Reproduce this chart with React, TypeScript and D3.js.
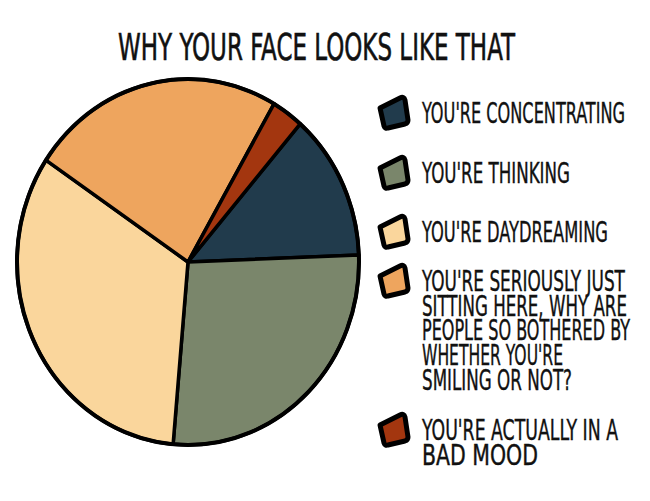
import React, { useLayoutEffect, useRef, useState } from "react";
import * as d3 from "d3";

// Slices, clockwise from the navy wedge
const categories = ["concentrating", "thinking", "daydreaming", "sitting", "badMood"];
const values = [13, 27, 33, 24, 3];
const colors = ["#213b4c", "#7a866b", "#fad69c", "#eea55e", "#a3360f"];

// Legend text, one array of lines per slice
const legendLines: string[][] = [
  ["YOU'RE CONCENTRATING"],
  ["YOU'RE THINKING"],
  ["YOU'RE DAYDREAMING"],
  [
    "YOU'RE SERIOUSLY JUST",
    "SITTING HERE, WHY ARE",
    "PEOPLE SO BOTHERED BY",
    "WHETHER YOU'RE",
    "SMILING OR NOT?",
  ],
  ["YOU'RE ACTUALLY IN A", "BAD MOOD"],
];
const legendWidths: number[][] = [[203], [148], [186], [203, 205, 208, 141, 150], [196, 116]];

const title = "WHY YOUR FACE LOOKS LIKE THAT";

const W = 650;
const H = 501;
const FONT = "'Liberation Sans Narrow', 'DejaVu Sans Condensed', 'Roboto Condensed', sans-serif";

const cx = 188;
const cy = 262;
const rx = 171;
const ry = 183;

const legendTops = [123, 183, 242, 291, 440];
const lineStep = 24.7;

// Hand-drawn style marker (rough tilted quad)
const markerPath = "M3,12 L23,2 Q27,0 28,4 L31,24 Q31,27 28,28 L11,32 Q8,33 7,30 Z";

// Text squeezed horizontally to a given width (narrow hand-lettered look)
function FitText(props: {
  x: number;
  y: number;
  width: number;
  size: number;
  strokeW: number;
  children: string;
}) {
  const ref = useRef<SVGTextElement>(null);
  const [sx, setSx] = useState(0.6);
  useLayoutEffect(() => {
    if (ref.current) {
      const natural = ref.current.getComputedTextLength();
      if (natural > 0) setSx(props.width / natural);
    }
  }, [props.width, props.children]);
  return (
    <text
      ref={ref}
      transform={`translate(${props.x},${props.y}) scale(${sx},1)`}
      fontFamily={FONT}
      fontSize={props.size}
      fill="#111"
      stroke="#111"
      strokeWidth={props.strokeW}
    >
      {props.children}
    </text>
  );
}

export default function App() {
  const startAngle = (41 * Math.PI) / 180;
  const pie = d3
    .pie<number>()
    .sort(null)
    .startAngle(startAngle)
    .endAngle(startAngle + 2 * Math.PI);
  const arcs = pie(values);
  const arc = d3.arc<d3.PieArcDatum<number>>().innerRadius(0).outerRadius(rx);

  return (
    <svg
      width={W}
      height={H}
      style={{ position: "absolute", left: 0, top: 0, background: "#fff" }}
    >
      <rect width={W} height={H} fill="#fff" />
      <FitText x={118} y={60} width={397} size={38} strokeW={0.6}>
        {title}
      </FitText>

      <g transform={`translate(${cx},${cy}) scale(1,${ry / rx})`}>
        {arcs.map((a, i) => (
          <path
            key={categories[i]}
            d={arc(a) || ""}
            fill={colors[i]}
            stroke="#000"
            strokeWidth={3.5}
            strokeLinejoin="round"
            vectorEffect="non-scaling-stroke"
          />
        ))}
        <ellipse
          rx={rx}
          ry={rx}
          fill="none"
          stroke="#000"
          strokeWidth={4}
          vectorEffect="non-scaling-stroke"
        />
      </g>

      {categories.map((c, i) => (
        <g key={c}>
          <path
            transform={`translate(377,${legendTops[i] - 27})`}
            d={markerPath}
            fill={colors[i]}
            stroke="#000"
            strokeWidth={5}
            strokeLinejoin="round"
          />
          {legendLines[i].map((line, j) => (
            <FitText
              key={j}
              x={422}
              y={legendTops[i] + j * lineStep}
              width={legendWidths[i][j]}
              size={29}
              strokeW={0.4}
            >
              {line}
            </FitText>
          ))}
        </g>
      ))}
    </svg>
  );
}
